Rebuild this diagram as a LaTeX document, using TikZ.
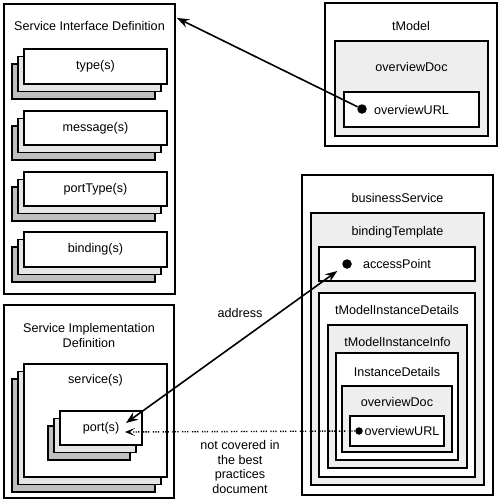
\documentclass[tikz,border=0pt]{standalone}
\usepackage{fontspec}
\setmainfont{Liberation Sans}
\usetikzlibrary{arrows.meta,shadows}

\begin{document}
\begin{tikzpicture}[
  x=1pt, y=-1pt,
  every node/.style={font=\fontsize{12.6}{14.5}\selectfont},
  box/.style={draw, line width=1.6pt, fill=white, inner sep=0pt},
  greybox/.style={box, fill=gray!13},
  stackbox/.style={box,
    general shadow={shadow xshift=-12pt, shadow yshift=-15pt, draw, fill=gray!50},
    general shadow={shadow xshift=-6pt, shadow yshift=-7.5pt, draw, fill=gray!20}},
  heading/.style={align=center, inner sep=1pt},
  dot/.style={circle, fill, inner sep=0pt, minimum size=9.5pt},
  link/.style={-{Stealth[length=12pt,width=9pt,inset=4pt]}, line width=1.6pt},
  twolink/.style={{Stealth[length=12pt,width=9pt,inset=4pt]}-{Stealth[length=12pt,width=9pt,inset=4pt]}, line width=1.6pt},
  dotlink/.style={-{Stealth[length=10pt,width=8pt,inset=5pt]}, line width=1.4pt,
    dash pattern=on 1.3pt off 1.2pt on 1.3pt off 1.2pt on 1.3pt off 3.5pt}
]
\useasboundingbox (0,0) rectangle (500,501);

% Service Interface Definition with its four stacks.
\node[box, minimum width=171, minimum height=290] (sid) at (89.5,149) {};
\node[heading] (sidhead) at (89.5,26) {Service Interface Definition};
\node[stackbox, minimum width=143, minimum height=35] (types) at (95.5,66.5) {type(s)};
\node[stackbox, minimum width=143, minimum height=34] (msgs) at (95.5,128) {message(s)};
\node[stackbox, minimum width=143, minimum height=34] (ptypes) at (95.5,189) {portType(s)};
\node[stackbox, minimum width=143, minimum height=35] (binds) at (95.5,249.5) {binding(s)};

% tModel.
\node[box, minimum width=172, minimum height=143] (tmodel) at (411,74.5) {};
\node[heading] (tmhead) at (411,26) {tModel};
\node[greybox, minimum width=153, minimum height=95] (tdoc) at (411.5,88.5) {};
\node[heading] (tdochead) at (411.5,67) {overviewDoc};
\node[box, minimum width=135, minimum height=35] (turl) at (411.5,109.5) {overviewURL};
\node[dot] (udot) at (362,109) {};

% businessService, nested down to the second overviewURL.
\node[box, minimum width=191, minimum height=320] (bs) at (397.5,335) {};
\node[heading] (bshead) at (397.5,198) {businessService};
\node[greybox, minimum width=173, minimum height=272] (bt) at (397.5,349) {};
\node[heading] (bthead) at (397.5,232) {bindingTemplate};
\node[box, minimum width=156, minimum height=34] (ap) at (397,264) {accessPoint};
\node[dot] (adot) at (347,264) {};
\node[box, minimum width=156, minimum height=184] (tmid) at (397,385) {};
\node[heading] (tmidhead) at (397,310) {tModelInstanceDetails};
\node[greybox, minimum width=139, minimum height=143] (tmii) at (397.5,396.5) {};
\node[heading] (tmiihead) at (397.5,342) {tModelInstanceInfo};
\node[box, minimum width=122, minimum height=107] (idt) at (397,406.5) {};
\node[heading] (idthead) at (397,372) {InstanceDetails};
\node[greybox, minimum width=110, minimum height=66] (idoc) at (397,419) {};
\node[heading] (idochead) at (397,402) {overviewDoc};
\node[box, minimum width=94, minimum height=30] (iurl) at (397,431) {};
\node[heading] (iurltext) at (402,431) {overviewURL};
\node[dot, minimum size=7.5pt] (idot) at (359,431) {};

% Service Implementation Definition.
\node[box, minimum width=170, minimum height=193] (sim) at (89,401.5) {};
\node[heading] (simhead) at (89,335.5) {Service Implementation\\Definition};
\node[stackbox, minimum width=143, minimum height=113] (svc) at (95.5,420.5) {};
\node[heading] (svchead) at (95.5,380) {service(s)};
\node[stackbox, minimum width=82, minimum height=34] (ports) at (101,428) {port(s)};

% Connectors.
\coordinate (sidtip) at (177,18);
\coordinate (porttip) at (126,423);
\coordinate (porttip2) at (125,432);
\draw[link] (udot) -- (sidtip);
\draw[twolink, shorten <=7pt] (adot) -- (porttip);
\draw[dotlink] (idot) -- (porttip2);
\node (addr) at (240,313) {address};
\node[align=center] (note) at (240,467) {not covered in\\the best\\practices\\document};
\end{tikzpicture}
\end{document}
